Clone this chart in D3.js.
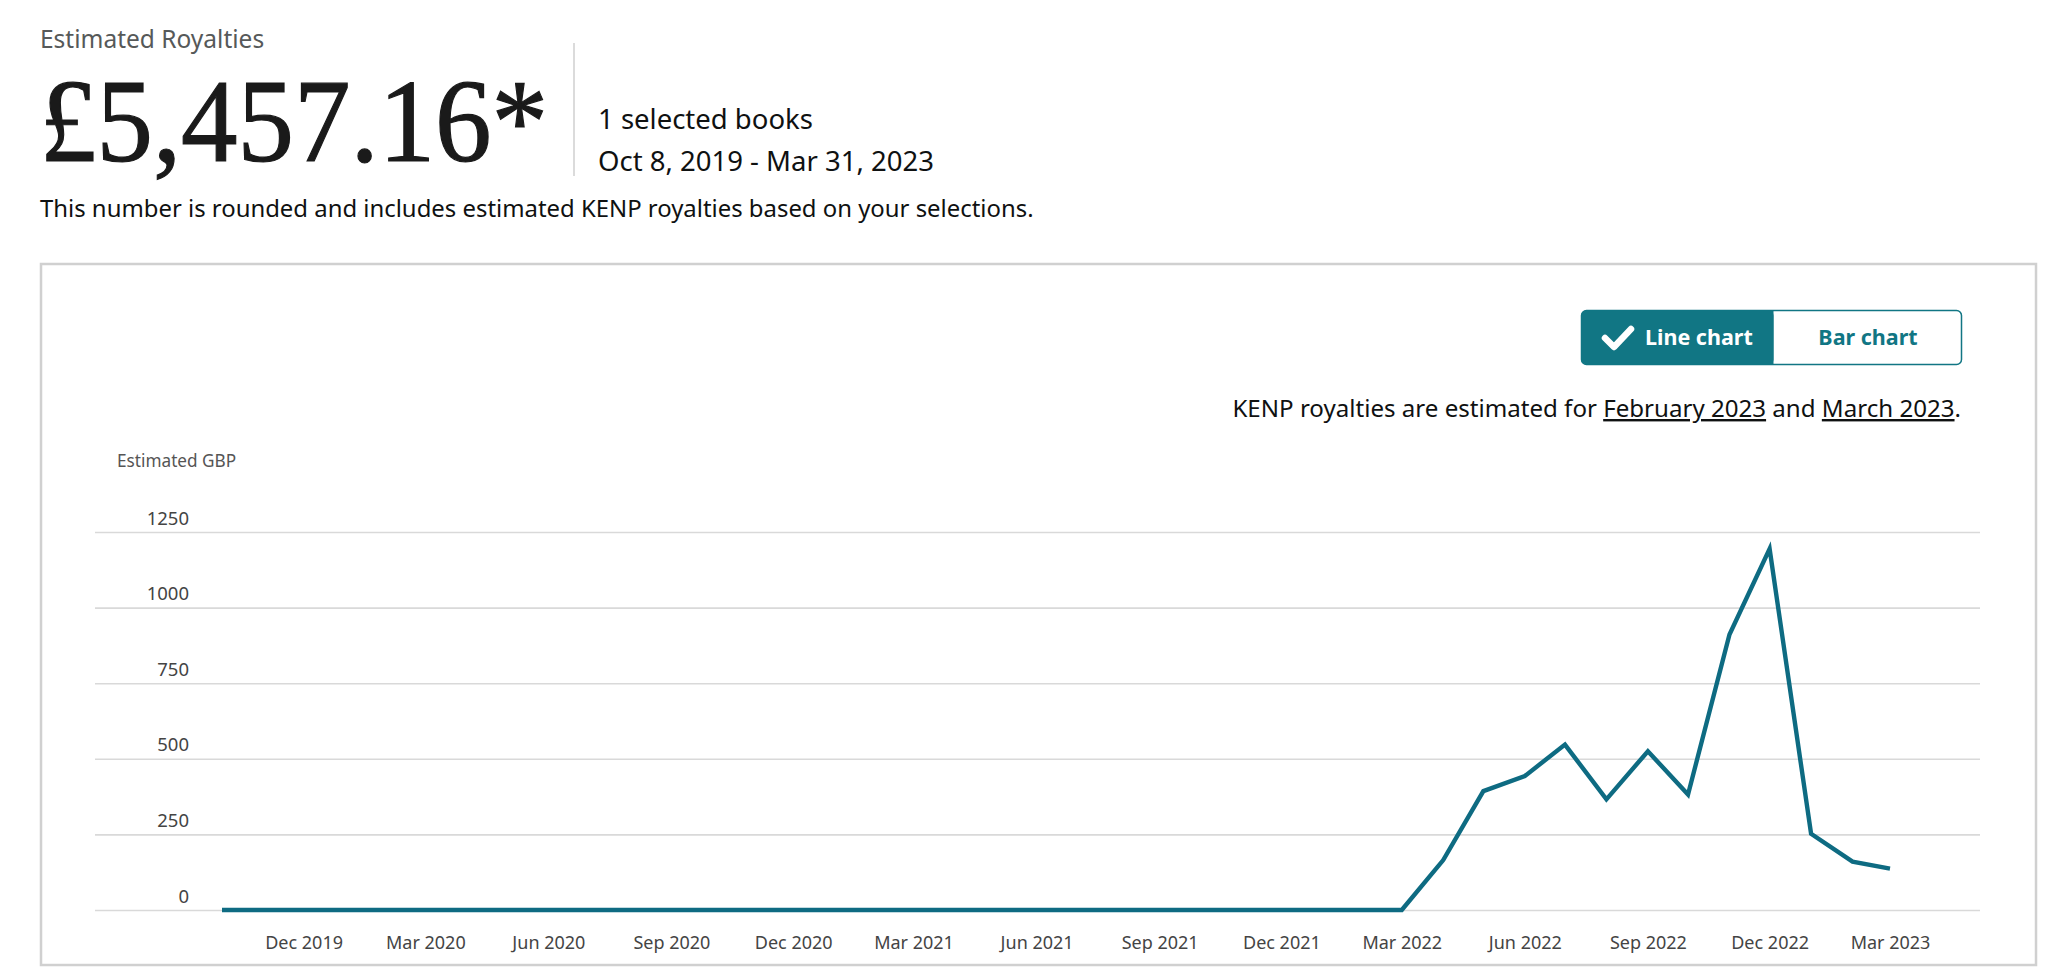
<!DOCTYPE html>
<html>
<head>
<meta charset="utf-8">
<script src="https://cdn.jsdelivr.net/npm/d3@7"></script>
<style>
  body { margin: 0; background: #fff; }
  text { font-family: "Noto Sans", sans-serif; }
</style>
</head>
<body>
<svg id="chart"></svg>
<script>
// monthly estimated royalties (GBP)
const months = [
  "2019-10", "2019-11", "2019-12",
  "2020-01", "2020-02", "2020-03", "2020-04", "2020-05", "2020-06",
  "2020-07", "2020-08", "2020-09", "2020-10", "2020-11", "2020-12",
  "2021-01", "2021-02", "2021-03", "2021-04", "2021-05", "2021-06",
  "2021-07", "2021-08", "2021-09", "2021-10", "2021-11", "2021-12",
  "2022-01", "2022-02", "2022-03", "2022-04", "2022-05", "2022-06",
  "2022-07", "2022-08", "2022-09", "2022-10", "2022-11", "2022-12",
  "2023-01", "2023-02", "2023-03"
];
const royalties = [
  0, 0, 0,
  0, 0, 0, 0, 0, 0,
  0, 0, 0, 0, 0, 0,
  0, 0, 0, 0, 0, 0,
  0, 0, 0, 0, 0, 0,
  0, 0, 0, 165, 393, 443,
  547, 366, 525, 382, 911, 1194,
  252, 160, 137
];
const tickMonths = ["2019-12", "2020-03", "2020-06", "2020-09", "2020-12", "2021-03",
  "2021-06", "2021-09", "2021-12", "2022-03", "2022-06", "2022-09", "2022-12", "2023-03"];
const yTicks = [0, 250, 500, 750, 1000, 1250];

const W = 2047, H = 973;
const teal = "#117684";
const parse = d3.timeParse("%Y-%m");
const data = months.map((m, i) => ({date: parse(m), value: royalties[i]}));

const svg = d3.select("#chart")
    .attr("width", W)
    .attr("height", H)
    .style("display", "block");

// ---- header ----
svg.append("text")
    .attr("x", 40).attr("y", 48)
    .attr("font-size", 24.5)
    .attr("fill", "#565959")
    .text("Estimated Royalties");

svg.append("text")
    .attr("x", 40).attr("y", 161)
    .attr("font-size", 118)
    .attr("fill", "#1a1a1a")
    .attr("textLength", 508)
    .attr("lengthAdjust", "spacingAndGlyphs")
    .style("font-family", "'Liberation Serif', serif")
    .style("stroke", "#1a1a1a").style("stroke-width", 1.2)
    .text("£5,457.16*");

svg.append("line")
    .attr("x1", 574).attr("x2", 574)
    .attr("y1", 43).attr("y2", 176)
    .attr("stroke", "#cfcfcf").attr("stroke-width", 1.5);

svg.append("text")
    .attr("x", 598).attr("y", 129)
    .attr("font-size", 27.5).attr("fill", "#0f1111")
    .text("1 selected books");
svg.append("text")
    .attr("x", 598).attr("y", 171)
    .attr("font-size", 27.5).attr("fill", "#0f1111")
    .text("Oct 8, 2019 - Mar 31, 2023");

svg.append("text")
    .attr("x", 40).attr("y", 217)
    .attr("font-size", 23.9).attr("fill", "#0f1111")
    .text("This number is rounded and includes estimated KENP royalties based on your selections.");

// ---- chart panel ----
svg.append("rect")
    .attr("x", 41).attr("y", 264)
    .attr("width", 1995).attr("height", 701)
    .attr("fill", "#fff")
    .attr("stroke", "#d0d0d0").attr("stroke-width", 2.5);

// toggle buttons
const btn = svg.append("g");
btn.append("rect")
    .attr("x", 1581.5).attr("y", 310.5)
    .attr("width", 380).attr("height", 54).attr("rx", 5)
    .attr("fill", "#fff").attr("stroke", teal).attr("stroke-width", 1.5);
btn.append("rect")
    .attr("x", 1581.5).attr("y", 310.5)
    .attr("width", 192).attr("height", 54).attr("rx", 5)
    .attr("fill", teal);
btn.append("rect")
    .attr("x", 1763).attr("y", 310.5)
    .attr("width", 10.5).attr("height", 54)
    .attr("fill", teal);
btn.append("path")
    .attr("d", "M1605,338 L1614,347 L1631,329")
    .attr("fill", "none").attr("stroke", "#fff")
    .attr("stroke-width", 6.5).attr("stroke-linecap", "round").attr("stroke-linejoin", "round");
btn.append("text")
    .attr("x", 1645).attr("y", 345)
    .attr("font-size", 21.5).attr("font-weight", "bold").attr("fill", "#fff")
    .text("Line chart");
btn.append("text")
    .attr("x", 1868).attr("y", 345)
    .attr("text-anchor", "middle")
    .attr("font-size", 21.5).attr("font-weight", "bold").attr("fill", teal)
    .text("Bar chart");

const note = svg.append("text")
    .attr("x", 1961).attr("y", 417)
    .attr("text-anchor", "end")
    .attr("font-size", 24.1).attr("fill", "#0f1111");
note.append("tspan").text("KENP royalties are estimated for ");
note.append("tspan").style("text-decoration", "underline").text("February 2023");
note.append("tspan").text(" and ");
note.append("tspan").style("text-decoration", "underline").text("March 2023");
note.append("tspan").text(".");

svg.append("text")
    .attr("x", 117).attr("y", 467)
    .attr("font-size", 17.2).attr("fill", "#555")
    .text("Estimated GBP");

// ---- scales ----
const x = d3.scaleTime()
    .domain(d3.extent(data, d => d.date))
    .range([222, 1890]);
const y = d3.scaleLinear()
    .domain([0, 1250])
    .range([910, 532]);

// y grid + labels
const gx0 = 95, gx1 = 1980;
const yAxis = svg.append("g")
    .attr("transform", `translate(${gx0},0)`)
    .call(d3.axisRight(y).tickValues(yTicks).tickFormat(d3.format("d")).tickSize(gx1 - gx0));
yAxis.select(".domain").remove();
yAxis.selectAll(".tick line").attr("stroke", "#d9d9d9").attr("stroke-width", 1.6);
yAxis.selectAll(".tick text")
    .attr("x", 94).attr("y", -8).attr("dy", 0)
    .attr("text-anchor", "end")
    .attr("font-family", "Noto Sans")
    .attr("font-size", 18.5).attr("fill", "#444");

// x axis labels
const xAxis = svg.append("g")
    .attr("transform", "translate(0,910)")
    .call(d3.axisBottom(x)
        .tickValues(tickMonths.map(parse))
        .tickFormat(d3.timeFormat("%b %Y"))
        .tickSize(0).tickPadding(26));
xAxis.select(".domain").remove();
xAxis.selectAll(".tick text")
    .attr("font-family", "Noto Sans")
    .attr("font-size", 18).attr("fill", "#444");

// ---- line ----
svg.append("path")
    .datum(data)
    .attr("fill", "none")
    .attr("stroke", "#0e6b82")
    .attr("stroke-width", 4.4)
    .attr("stroke-linejoin", "miter")
    .attr("d", d3.line()
        .x(d => x(d.date))
        .y(d => y(d.value)));
</script>
</body>
</html>
